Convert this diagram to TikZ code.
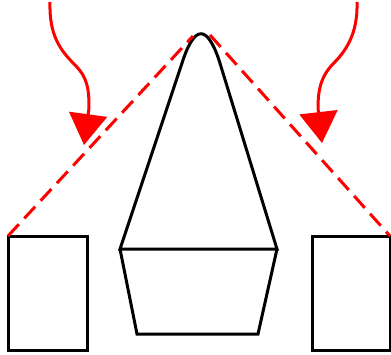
\documentclass[tikz,border=0pt]{standalone}
\usetikzlibrary{arrows.meta}
\begin{document}
\begin{tikzpicture}[x=1pt,y=-1pt,
  outline/.style={draw=black,line width=3pt,line join=miter},
  sightline/.style={draw=red,line width=3pt,dash pattern=on 16pt off 8pt},
  pointer/.style={draw=red,line width=3pt,-{Triangle[length=31pt,width=38pt]}}]
\useasboundingbox (0,0) rectangle (391,354);
% named points
\coordinate (apexL) at (193,36);
\coordinate (apexR) at (210,35);
\coordinate (lcorner) at (8,236);
\coordinate (rcorner) at (390,236);
\coordinate (ltip) at (84,145);
\coordinate (rtip) at (322,143);
% side boxes
\draw[outline] (lcorner) rectangle (87,350);
\draw[outline] (312,236) rectangle (rcorner |- 0,350);
% central cone
\draw[outline] (120,249) -- (183,60) .. controls (195,25) and (207,25) .. (219,60) -- (277,249) -- cycle;
\draw[outline] (120,249) -- (137,334) -- (258,334) -- (277,249);
% dashed sight lines
\draw[sightline] (lcorner) -- (apexL);
\draw[sightline] (apexR) -- (rcorner);
% curved arrows
\draw[pointer] (50,2) .. controls (49,35) and (60,50) .. (75,65) .. controls (88,78) and (89,90) .. (89,108) -- (ltip);
\draw[pointer] (357,2) .. controls (358,35) and (345,52) .. (332,65) .. controls (320,78) and (318,92) .. (318,108) -- (rtip);
\end{tikzpicture}
\end{document}
